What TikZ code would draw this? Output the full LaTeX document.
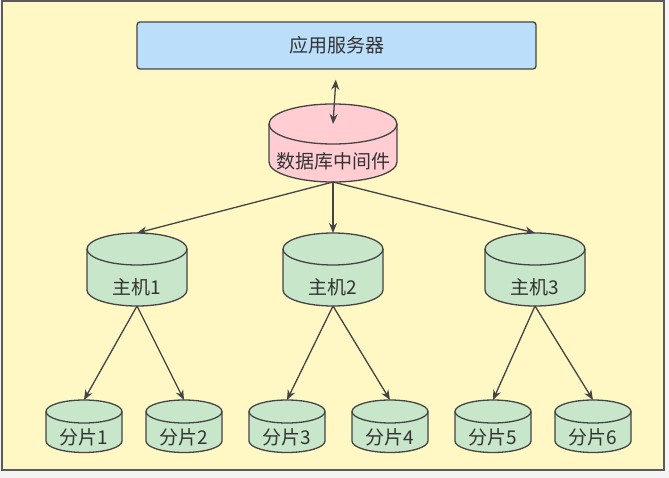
\documentclass[tikz,border=0pt]{standalone}
\usepackage{fontspec}
\newfontfamily\cjk{Noto Sans CJK SC}
\usetikzlibrary{arrows.meta}
\definecolor{pagebg}{HTML}{F4F4F4}
\definecolor{framefill}{HTML}{FFF8C5}
\definecolor{framedraw}{HTML}{5A5A5A}
\definecolor{appfill}{HTML}{BBDEFB}
\definecolor{mwfill}{HTML}{FFCDD2}
\definecolor{dbfill}{HTML}{C8E6C9}
\definecolor{edgec}{HTML}{444444}
\definecolor{txtc}{HTML}{333333}
% #1 name, #2 cx, #3 top, #4 width, #5 bottom, #6 dy, #7 fill, #8 text y, #9 text
\newcommand\mycyl[9]{%
  \path[cylline, fill=#7]
    ({#2-#4/2},{-(#3+#6)}) -- ({#2-#4/2},{-(#5-#6)})
    arc[start angle=180, end angle=360, x radius={#4/2}, y radius=#6]
    -- ({#2+#4/2},{-(#3+#6)})
    arc[start angle=0, end angle=180, x radius={#4/2}, y radius=#6] -- cycle;
  \draw[cylline] ({#2-#4/2},{-(#3+#6)})
    arc[start angle=180, end angle=360, x radius={#4/2}, y radius=#6];
  \coordinate (#1-t) at (#2,{-#3});
  \coordinate (#1-e) at (#2,{-(#3+#6)});
  \coordinate (#1-b) at (#2,{-#5});
  \node[lbl] (#1) at (#2,{-#8}) {#9};
}
\begin{document}
\begin{tikzpicture}[x=1pt,y=1pt,
  cylline/.style={draw=edgec, line width=1.3pt},
  lbl/.style={text=txtc, font=\cjk\fontsize{19}{22}\selectfont, inner sep=0pt},
  conn/.style={draw=edgec, line width=1.3pt, -{Stealth[length=10pt,width=8pt]}},
  dconn/.style={draw=edgec, line width=1.3pt, {Stealth[length=10pt,width=8pt]}-{Stealth[length=10pt,width=8pt]}}]
\useasboundingbox (0,0) rectangle (669,-478);
\fill[pagebg] (0,0) rectangle (669,-478);
\path[fill=framefill, draw=framedraw, line width=2pt] (1.5,-1.5) rectangle (664,-470);
% application server
\node[draw=edgec, line width=1.3pt, fill=appfill, rounded corners=3pt,
      minimum width=399pt, minimum height=47pt, inner sep=0pt,
      text=txtc, font=\cjk\fontsize{19}{22}\selectfont] (app) at (336.5,-45.5) {应用服务器};
% middleware
\mycyl{mw}{333}{104}{128}{182}{20}{mwfill}{161}{数据库中间件}
% hosts
\mycyl{h1}{137}{233}{100}{306}{16}{dbfill}{287}{主机1}
\mycyl{h2}{333}{233}{100}{306}{16}{dbfill}{287}{主机2}
\mycyl{h3}{535}{233}{100}{306}{16}{dbfill}{287}{主机3}
% shards
\mycyl{s1}{84}{400}{76}{452.5}{11.5}{dbfill}{437}{分片1}
\mycyl{s2}{184}{400}{76}{452.5}{11.5}{dbfill}{437}{分片2}
\mycyl{s3}{287}{400}{76}{452.5}{11.5}{dbfill}{437}{分片3}
\mycyl{s4}{390}{400}{76}{452.5}{11.5}{dbfill}{437}{分片4}
\mycyl{s5}{493}{400}{76}{452.5}{11.5}{dbfill}{437}{分片5}
\mycyl{s6}{593}{400}{76}{452.5}{11.5}{dbfill}{437}{分片6}
% connectors
\draw[dconn, shorten <=10pt] (app.south) -- (mw-e);
\draw[conn] (mw-b) -- (h1-t);
\draw[conn] (mw-b) -- (h2-t);
\draw[conn] (mw-b) -- (h3-t);
\draw[conn] (h1-b) -- (s1-t);
\draw[conn] (h1-b) -- (s2-t);
\draw[conn] (h2-b) -- (s3-t);
\draw[conn] (h2-b) -- (s4-t);
\draw[conn] (h3-b) -- (s5-t);
\draw[conn] (h3-b) -- (s6-t);
\end{tikzpicture}
\end{document}
